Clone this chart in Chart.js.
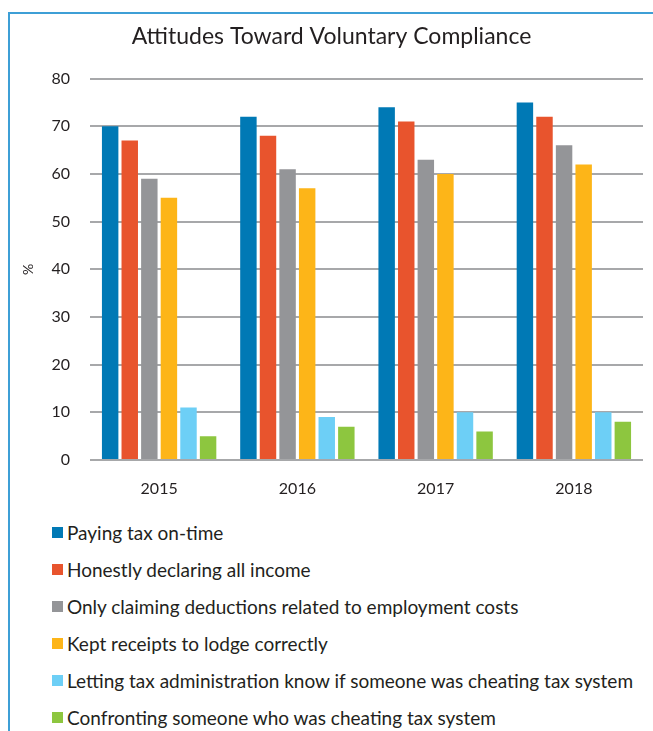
<!DOCTYPE html>
<html>
<head>
<meta charset="utf-8">
<script src="https://cdn.jsdelivr.net/npm/chart.js@4"></script>
<style>
  body { margin: 0; background: #fff; width: 653px; height: 731px; overflow: hidden; position: relative; font-family: 'Lato', sans-serif; }
  #frame { position: absolute; left: 8px; top: 12px; width: 700px; height: 800px; border-left: 2px solid #3d9fd6; border-top: 2px solid #3d9fd6; }
  #chartProductividad { position: absolute; left: 0; top: 0; }
  #leyenda { position: absolute; left: 52px; top: 514px; }
  .item { height: 37px; display: flex; align-items: center; font-size: 19px; color: #231f20; white-space: nowrap; }
  .caja { width: 11px; height: 11px; margin-right: 4px; }
</style>
</head>
<body>
<div id="frame"></div>
<canvas id="chartProductividad" width="653" height="505"></canvas>
<div id="leyenda"></div>
<script>
// Datos
const anios = ['2015', '2016', '2017', '2018'];
const series = [
  'Paying tax on-time',
  'Honestly declaring all income',
  'Only claiming deductions related to employment costs',
  'Kept receipts to lodge correctly',
  'Letting tax administration know if someone was cheating tax system',
  'Confronting someone who was cheating tax system'
];
const pagarATiempo = [70, 72, 74, 75];
const declararIngresos = [67, 68, 71, 72];
const deducciones = [59, 61, 63, 66];
const recibos = [55, 57, 60, 62];
const denunciar = [11, 9, 10, 10];
const confrontar = [5, 7, 6, 8];
const colores = ['#0079b5', '#e8542d', '#949598', '#fdb518', '#6dcff6', '#8dc63f'];
const ticksY = [0, 10, 20, 30, 40, 50, 60, 70, 80];

const valores = [pagarATiempo, declararIngresos, deducciones, recibos, denunciar, confrontar];

const ctx = document.getElementById('chartProductividad').getContext('2d');
const fuente = "'Lato', sans-serif";

const chart = new Chart(ctx, {
  type: 'bar',
  data: {
    labels: anios,
    datasets: series.map((s, i) => ({
      label: s,
      data: valores[i],
      backgroundColor: colores[i],
      borderWidth: 0,
      categoryPercentage: 0.85,
      barPercentage: 0.84
    }))
  },
  options: {
    responsive: false,
    animation: false,
    layout: { padding: { left: 20, right: 10, top: 0, bottom: 0 } },
    plugins: {
      legend: { display: false },
      tooltip: { enabled: false },
      title: {
        display: true,
        text: 'Attitudes Toward Voluntary Compliance',
        color: '#231f20',
        font: { size: 23, family: fuente, weight: 'normal' },
        padding: { top: 23, bottom: 28 }
      }
    },
    scales: {
      y: {
        min: 0,
        max: 80,
        afterBuildTicks: (s) => { s.ticks = ticksY.map(v => ({ value: v })); },
        afterFit: (s) => { s.width = 70; },
        title: {
          display: true,
          text: '%',
          color: '#231f20',
          font: { size: 14, family: fuente },
          padding: { top: 0, bottom: 0 }
        },
        ticks: {
          padding: 20,
          color: '#231f20',
          font: { size: 16, family: fuente }
        },
        grid: { color: '#a7a8aa', lineWidth: 2, drawTicks: false },
        border: { display: false }
      },
      x: {
        afterFit: (s) => { s.height = 45; },
        ticks: {
          padding: 19,
          color: '#231f20',
          font: { size: 16, family: fuente }
        },
        grid: { display: false, drawTicks: false },
        border: { display: false }
      }
    }
  }
});

// Leyenda en columna
const leyenda = document.getElementById('leyenda');
chart.data.datasets.forEach(ds => {
  const fila = document.createElement('div');
  fila.className = 'item';
  fila.innerHTML = '<span class="caja" style="background:' + ds.backgroundColor + '"></span>' + ds.label;
  leyenda.appendChild(fila);
});
</script>
</body>
</html>
